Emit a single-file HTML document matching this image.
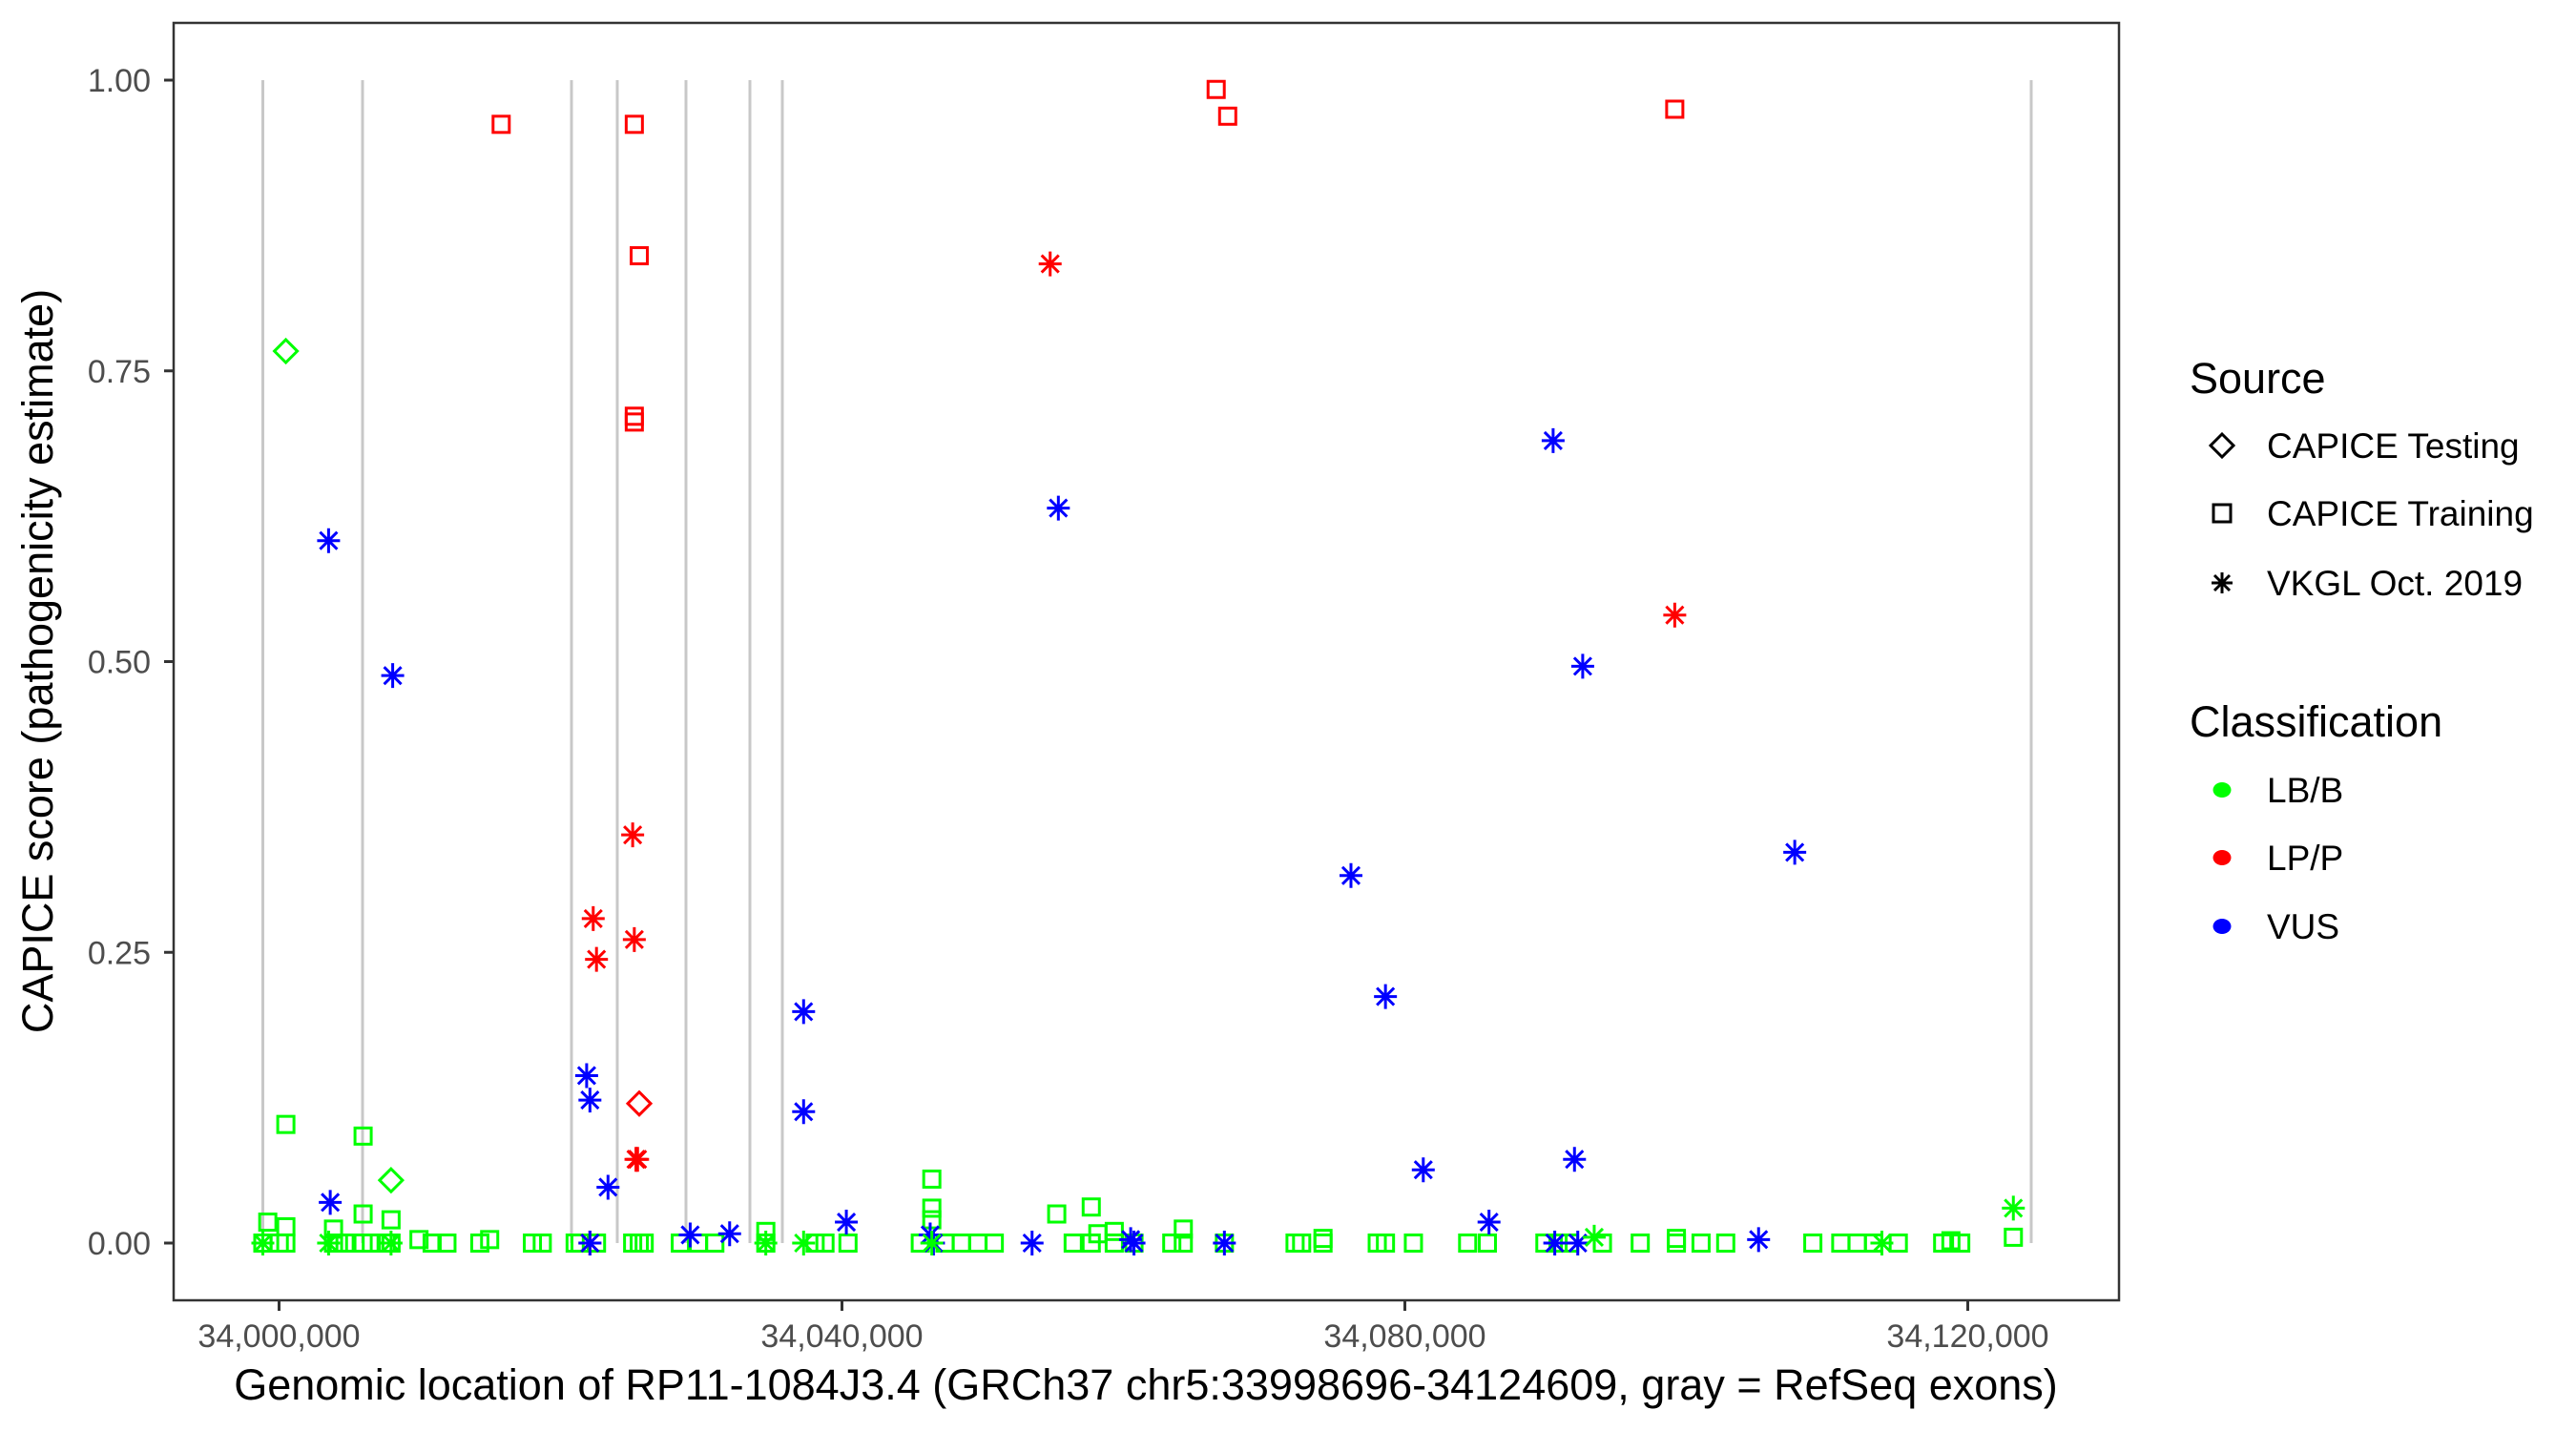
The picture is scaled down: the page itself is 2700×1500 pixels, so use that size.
<!DOCTYPE html>
<html><head><meta charset="utf-8"><style>
html,body{margin:0;padding:0;background:#fff;}
svg{display:block;font-family:"Liberation Sans",Arial,sans-serif;}
</style></head><body>
<svg id="chart" width="2700" height="1500" viewBox="0 0 2700 1500" xmlns="http://www.w3.org/2000/svg">
<rect x="0" y="0" width="2700" height="1500" fill="#fff"/>
<g id="exons"></g>
<g id="marks"></g>
<rect x="182" y="24" width="2039" height="1339" fill="none" stroke="#333" stroke-width="2.5"/>
<g id="yaxis"></g>
<g id="xaxis"></g>
<text x="1201" y="1467" font-size="45" text-anchor="middle" fill="#000">Genomic location of RP11-1084J3.4 (GRCh37 chr5:33998696-34124609, gray = RefSeq exons)</text>
<text transform="translate(55,693) rotate(-90)" font-size="45" text-anchor="middle" fill="#000">CAPICE score (pathogenicity estimate)</text>
<g>
<text x="2295" y="412" font-size="45" fill="#000">Source</text>
<g>
<polygon points="2329,455 2341,467 2329,479 2317,467" fill="none" stroke="#000" stroke-width="3"/>
<text x="2376" y="480" font-size="37" fill="#000">CAPICE Testing</text></g>
<g>
<rect x="2320" y="529" width="18" height="18" fill="none" stroke="#000" stroke-width="3"/>
<text x="2376" y="551" font-size="37" fill="#000">CAPICE Training</text></g>
<g>
<path d="M2329,600 V622 M2318,611 H2340 M2321,603 L2337,619 M2337,603 L2321,619" stroke="#000" stroke-width="3"/>
<text x="2376" y="624" font-size="37" fill="#000">VKGL Oct. 2019</text></g>
<text x="2295" y="772" font-size="45" fill="#000">Classification</text>
<g><ellipse cx="2329" cy="828" rx="9.5" ry="8" fill="#00FF00"/><text x="2376" y="841" font-size="37" fill="#000">LB/B</text></g>
<g><ellipse cx="2329" cy="899" rx="9.5" ry="8" fill="#FF0000"/><text x="2376" y="912" font-size="37" fill="#000">LP/P</text></g>
<g><ellipse cx="2329" cy="971" rx="9.5" ry="8" fill="#0000FF"/><text x="2376" y="984" font-size="37" fill="#000">VUS</text></g>
</g>
</svg>
<script>
const xTicks=[34000000,34040000,34080000,34120000];
const xTickLabels=["34,000,000","34,040,000","34,080,000","34,120,000"];
const yTicks=[0,0.25,0.5,0.75,1];
const yTickLabels=["0.00","0.25","0.50","0.75","1.00"];
const exonPos=[33998847,34005932,34020780,34024034,34028915,34033458,34035763,34124508];

const testingPos=[34000482,34007957,34025594];
const testingScore=[0.767,0.054,0.12];
const testingClass=["LB/B","LB/B","LP/P"];

const trainingPos=[34015783,34025244,34025594,34025244,34025244,34066591,34067409,34099178,
34000482,34005972,34046385,34055261,34057714,34046385,34046385,33999197,34000482,34005972,34007957,34003869,34034588,34058181,34059349,34064255,34099295,34074183,
33998847,34000015,34000482,34003869,34004220,34004687,34005972,34006556,34007607,34007957,34009943,34010877,34011929,34014265,34014965,34018002,34018703,34021039,34021389,34022557,34025127,34025594,34025945,34028514,34029799,34030967,34034588,34038092,34038793,34040428,34045567,34047319,34048487,34049655,34050823,34056429,34057714,34059349,34060751,34063437,34064255,34067175,34072197,34072665,34074183,34078037,34078621,34080607,34084461,34085863,34089951,34090885,34091703,34094039,34096725,34099295,34101047,34102799,34108989,34110975,34112143,34113311,34115063,34118217,34118801,34119501,34123239];
const trainingScore=[0.962,0.962,0.849,0.711,0.706,0.992,0.969,0.975,
0.102,0.092,0.055,0.025,0.031,0.03,0.02,0.018,0.014,0.025,0.02,0.012,0.01,0.008,0.01,0.012,0.004,0.004,
0,0,0,0,0,0,0,0,0,0,0.003,0,0,0,0.003,0,0,0,0,0,0,0,0,0,0,0,0,0,0,0,0,0,0,0,0,0,0,0,0,0,0,0,0,0,0,0,0,0,0,0,0,0,0,0,0,0,0,0,0,0,0,0,0,0,0.002,0,0.005];
const trainingClass=["LP/P","LP/P","LP/P","LP/P","LP/P","LP/P","LP/P","LP/P"];

const vkglPos=[34054794,34025127,34022324,34022557,34025244,34025361,34025477,34022090,34099178,
34003519,34008074,34055378,34090535,34092637,34076169,34078621,34107705,34037274,34037274,34021857,34022090,34023375,34003636,34081308,34092053,34085980,34040311,34029215,34032018,34022090,34046268,34053509,34060517,34060751,34067175,34090652,34092287,34105135,34046501,
34123239,34093455,33998847,34003519,34007957,34034588,34037274,34046385,34113895];
const vkglScore=[0.842,0.351,0.279,0.244,0.261,0.072,0.072,0,0.540,
0.604,0.488,0.632,0.690,0.496,0.316,0.212,0.336,0.199,0.113,0.144,0.123,0.048,0.035,0.063,0.072,0.018,0.018,0.007,0.008,0,0.007,0,0.003,0,0,0,0,0.003,0,
0.03,0.005,0,0,0,0,0,0,0];
const vkglClass=["LP/P","LP/P","LP/P","LP/P","LP/P","LP/P","LP/P","LP/P","LP/P",
"VUS","VUS","VUS","VUS","VUS","VUS","VUS","VUS","VUS","VUS","VUS","VUS","VUS","VUS","VUS","VUS","VUS","VUS","VUS","VUS","VUS","VUS","VUS","VUS","VUS","VUS","VUS","VUS","VUS","VUS",
"LB/B","LB/B","LB/B","LB/B","LB/B","LB/B","LB/B","LB/B","LB/B"];

const NS="http://www.w3.org/2000/svg";
function xs(g){return 292.5+(g-34000000)/40000*590;}
function ys(v){return 1303-v*1219;}
function col(c){return c==="LP/P"?"#FF0000":(c==="VUS"?"#0000FF":"#00FF00");}
function mk(tag,attrs,parent){const e=document.createElementNS(NS,tag);for(const k in attrs)e.setAttribute(k,attrs[k]);parent.appendChild(e);return e;}

const ex=document.getElementById('exons');
exonPos.forEach(p=>{
  const l=mk('line',{x1:xs(p),x2:xs(p),y1:ys(1),y2:ys(0),stroke:'#C8C8C8','stroke-width':3},ex);
  
  
});

const ya=document.getElementById('yaxis');
yTicks.forEach((v,i)=>{
  const t=mk('line',{x1:172,x2:182,y1:ys(v),y2:ys(v),stroke:'#333','stroke-width':3},ya);
  
  
  const tx=mk('text',{x:158,y:ys(v)+12,'font-size':34,'text-anchor':'end',fill:'#4D4D4D'},ya);
  tx.textContent=yTickLabels[i];
  
  
});
const xa=document.getElementById('xaxis');
xTicks.forEach((v,i)=>{
  const t=mk('line',{x1:xs(v),x2:xs(v),y1:1363,y2:1374,stroke:'#333','stroke-width':3},xa);
  
  
  const tx=mk('text',{x:xs(v),y:1412,'font-size':34,'text-anchor':'middle',fill:'#4D4D4D'},xa);
  tx.textContent=xTickLabels[i];
  
  
});

const mg=document.getElementById('marks');
trainingPos.forEach((p,i)=>{
  const c=col(trainingClass[i]||"LB/B");
  const r=mk('rect',{x:xs(p)-8.5,y:ys(trainingScore[i])-8.5,width:17,height:17,fill:'none',stroke:c,'stroke-width':3},mg);
  
  
});
testingPos.forEach((p,i)=>{
  const x=xs(p),y=ys(testingScore[i]),c=col(testingClass[i]);
  const d=mk('polygon',{points:`${x},${y-12} ${x+12},${y} ${x},${y+12} ${x-12},${y}`,fill:'none',stroke:c,'stroke-width':3},mg);
  
  
});
vkglPos.forEach((p,i)=>{
  const x=xs(p),y=ys(vkglScore[i]),c=col(vkglClass[i]);
  const s=mk('path',{d:`M${x},${y-13} V${y+13} M${x-12},${y} H${x+12} M${x-9},${y-9} L${x+9},${y+9} M${x+9},${y-9} L${x-9},${y+9}`,stroke:c,'stroke-width':3,fill:'none'},mg);
  
  
});
</script>
</body></html>
